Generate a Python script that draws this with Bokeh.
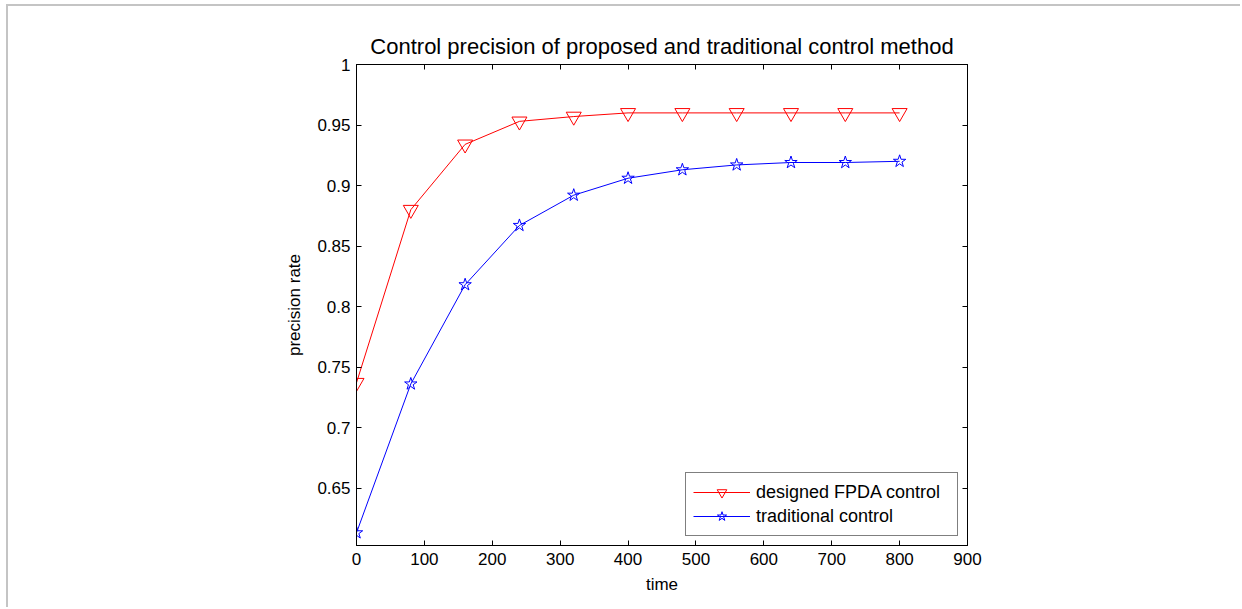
from bokeh.plotting import figure
from bokeh.models import ColumnDataSource, FixedTicker, LinearAxis, Range1d, Legend, LegendItem
from bokeh.embed import file_html
from bokeh.resources import INLINE

time = [0, 80, 160, 240, 320, 400, 480, 560, 640, 720, 800]
fpda = [0.737, 0.880, 0.934, 0.953, 0.957, 0.960, 0.960, 0.960, 0.960, 0.960, 0.960]
traditional = [0.613, 0.736, 0.818, 0.867, 0.892, 0.906, 0.913, 0.917, 0.919, 0.919, 0.920]

x_ticks = [0, 100, 200, 300, 400, 500, 600, 700, 800, 900]
x_tick_labels = ["0", "100", "200", "300", "400", "500", "600", "700", "800", "900"]
y_ticks = [0.65, 0.7, 0.75, 0.8, 0.85, 0.9, 0.95, 1.0]
y_tick_labels = ["0.65", "0.7", "0.75", "0.8", "0.85", "0.9", "0.95", "1"]

FONT = "Liberation Sans"

p = figure(width=1234, height=603, output_backend="svg", toolbar_location=None,
           x_range=Range1d(0, 900), y_range=Range1d(0.6025, 1.0),
           min_border_left=348, min_border_right=275, min_border_top=58, min_border_bottom=64)
p.styles = {"margin-left": "6px", "margin-top": "4px",
            "border-left": "2px solid #c4c4c4", "border-top": "2px solid #c4c4c4"}
p.xgrid.visible = False
p.ygrid.visible = False
p.outline_line_color = "black"
p.outline_line_width = 1
p.background_fill_color = "white"
p.border_fill_color = "white"

p.title.text = "Control precision of proposed and traditional control method"
p.title.align = "center"
p.title.text_font = FONT
p.title.text_font_size = "22px"
p.title.text_font_style = "normal"
p.title.text_color = "black"
p.title.offset = 0
p.title.standoff = 12

src = ColumnDataSource(dict(t=time, a=fpda, b=traditional))
r1 = p.line("t", "a", source=src, color="red", line_width=1)
m1 = p.scatter("t", "a", source=src, marker="inverted_triangle", size=15,
               line_color="red", fill_color=None, line_width=1)
r2 = p.line("t", "b", source=src, color="blue", line_width=1)
m2 = p.scatter("t", "b", source=src, marker="star", size=13,
               line_color="blue", fill_color=None, line_width=1)

xover = {x: s for x, s in zip(x_ticks, x_tick_labels)}
yover = {y: s for y, s in zip(y_ticks, y_tick_labels)}

def style(ax, labels=True):
    ax.axis_line_color = "black"
    ax.major_tick_line_color = "black"
    ax.major_tick_in = 5
    ax.major_tick_out = 0
    ax.minor_tick_line_color = None
    ax.major_label_text_font = FONT
    ax.major_label_text_font_size = "17px"
    ax.major_label_text_color = "black" if labels else None
    ax.axis_label_text_font = FONT
    ax.axis_label_text_font_size = "17px"
    ax.axis_label_text_font_style = "normal"
    ax.axis_label_text_color = "black"

p.xaxis.ticker = FixedTicker(ticks=x_ticks)
p.yaxis.ticker = FixedTicker(ticks=y_ticks)
p.xaxis.major_label_overrides = xover
p.yaxis.major_label_overrides = yover
style(p.xaxis[0])
style(p.yaxis[0])
p.xaxis.axis_label = "time"
p.yaxis.axis_label = "precision rate"
p.xaxis.major_label_standoff = 7
p.yaxis.major_label_standoff = 6
p.xaxis.axis_label_standoff = 7
p.yaxis.axis_label_standoff = 10

top = LinearAxis(ticker=FixedTicker(ticks=x_ticks))
style(top, labels=False)
top.major_label_text_font_size = "0px"
right = LinearAxis(ticker=FixedTicker(ticks=y_ticks))
style(right, labels=False)
right.major_label_text_font_size = "0px"
p.add_layout(top, "above")
p.add_layout(right, "right")

legend = Legend(items=[LegendItem(label="designed FPDA control", renderers=[r1, m1]),
                       LegendItem(label="traditional control", renderers=[r2, m2])],
                location="bottom_right")
legend.margin = 9
legend.padding = 7
legend.spacing = 0
legend.glyph_width = 57
legend.glyph_height = 24
legend.label_height = 24
legend.label_width = 194
legend.label_standoff = 6
legend.label_text_font = FONT
legend.label_text_font_size = "18px"
legend.label_text_color = "black"
legend.border_line_color = "black"
legend.border_line_width = 1
legend.background_fill_alpha = 1
p.add_layout(legend, "center")

open("out.html", "w").write(file_html(p, INLINE))
